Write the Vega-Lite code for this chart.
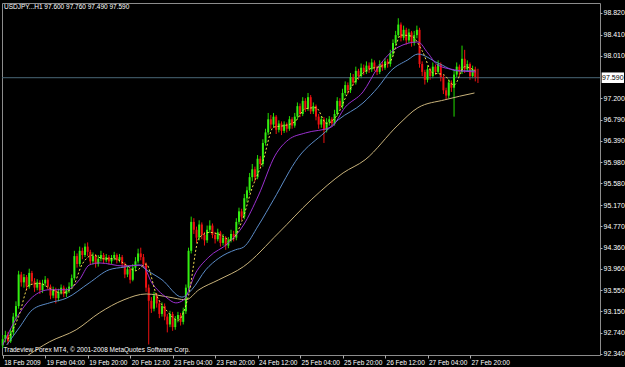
{
  "$schema": "https://vega.github.io/schema/vega-lite/v6.json",
  "autosize": {"type": "none"},
  "width": 598,
  "height": 352,
  "padding": {"left": 2, "top": 3, "right": 25, "bottom": 12},
  "background": "#000000",
  "config": {
    "view": {"stroke": "#8c8c8c", "strokeWidth": 1},
    "scale": {"continuousPadding": 0},
    "axis": {"grid": false, "domain": false, "title": null, "labelColor": "#ffffff", "labelFont": "Liberation Sans", "tickColor": "#b0b0b0", "labelOverlap": false, "labelFlush": false, "labelBound": false},
    "axisX": {"labelFontSize": 6.5, "tickSize": 3, "labelAlign": "left", "labelBaseline": "top", "labelOffset": 1, "labelPadding": 1},
    "axisY": {"labelFontSize": 7, "tickSize": 2, "labelPadding": 1, "labelBaseline": "middle", "labelAlign": "left"}
  },
  "datasets": {
    "one": [{"k": 1}],
    "candles": [
      {"i":0,"o":92.50,"h":92.70,"l":92.45,"c":92.62},
      {"i":1,"o":92.62,"h":92.78,"l":92.56,"c":92.70},
      {"i":2,"o":92.70,"h":92.76,"l":92.52,"c":92.58},
      {"i":3,"o":92.58,"h":92.82,"l":92.55,"c":92.75},
      {"i":4,"o":92.75,"h":93.12,"l":92.70,"c":93.05},
      {"i":5,"o":93.05,"h":93.34,"l":92.98,"c":93.25},
      {"i":6,"o":93.25,"h":93.92,"l":93.20,"c":93.85},
      {"i":7,"o":93.85,"h":93.90,"l":93.62,"c":93.70},
      {"i":8,"o":93.70,"h":93.86,"l":93.60,"c":93.80},
      {"i":9,"o":93.80,"h":93.84,"l":93.55,"c":93.62},
      {"i":10,"o":93.62,"h":93.96,"l":93.58,"c":93.88},
      {"i":11,"o":93.88,"h":93.92,"l":93.66,"c":93.72},
      {"i":12,"o":93.72,"h":93.78,"l":93.52,"c":93.60},
      {"i":13,"o":93.60,"h":93.76,"l":93.55,"c":93.70},
      {"i":14,"o":93.70,"h":93.74,"l":93.48,"c":93.55},
      {"i":15,"o":93.55,"h":93.75,"l":93.50,"c":93.68},
      {"i":16,"o":93.68,"h":93.82,"l":93.62,"c":93.75},
      {"i":17,"o":93.75,"h":93.78,"l":93.56,"c":93.62},
      {"i":18,"o":93.62,"h":93.66,"l":93.38,"c":93.45},
      {"i":19,"o":93.45,"h":93.62,"l":93.40,"c":93.55},
      {"i":20,"o":93.55,"h":93.60,"l":93.30,"c":93.40},
      {"i":21,"o":93.40,"h":93.58,"l":93.34,"c":93.52},
      {"i":22,"o":93.52,"h":93.66,"l":93.47,"c":93.60},
      {"i":23,"o":93.60,"h":93.64,"l":93.42,"c":93.48},
      {"i":24,"o":93.48,"h":93.60,"l":93.42,"c":93.55},
      {"i":25,"o":93.55,"h":93.70,"l":93.50,"c":93.62},
      {"i":26,"o":93.62,"h":93.85,"l":93.58,"c":93.78},
      {"i":27,"o":93.78,"h":94.30,"l":93.74,"c":94.20},
      {"i":28,"o":94.20,"h":94.25,"l":93.98,"c":94.05},
      {"i":29,"o":94.05,"h":94.38,"l":94.00,"c":94.30},
      {"i":30,"o":94.30,"h":94.36,"l":94.14,"c":94.22},
      {"i":31,"o":94.22,"h":94.44,"l":94.18,"c":94.38},
      {"i":32,"o":94.38,"h":94.46,"l":94.20,"c":94.28},
      {"i":33,"o":94.28,"h":94.32,"l":94.04,"c":94.10},
      {"i":34,"o":94.10,"h":94.27,"l":94.04,"c":94.20},
      {"i":35,"o":94.20,"h":94.24,"l":93.98,"c":94.05},
      {"i":36,"o":94.05,"h":94.22,"l":94.00,"c":94.15},
      {"i":37,"o":94.15,"h":94.30,"l":94.10,"c":94.22},
      {"i":38,"o":94.22,"h":94.26,"l":94.06,"c":94.12},
      {"i":39,"o":94.12,"h":94.24,"l":94.08,"c":94.18},
      {"i":40,"o":94.18,"h":94.22,"l":94.04,"c":94.10},
      {"i":41,"o":94.10,"h":94.22,"l":94.05,"c":94.16},
      {"i":42,"o":94.16,"h":94.28,"l":94.12,"c":94.22},
      {"i":43,"o":94.22,"h":94.25,"l":94.06,"c":94.12},
      {"i":44,"o":94.12,"h":94.24,"l":94.08,"c":94.18},
      {"i":45,"o":94.18,"h":94.22,"l":93.98,"c":94.05},
      {"i":46,"o":94.05,"h":94.08,"l":93.78,"c":93.85},
      {"i":47,"o":93.85,"h":94.02,"l":93.80,"c":93.95},
      {"i":48,"o":93.95,"h":93.98,"l":93.68,"c":93.75},
      {"i":49,"o":93.75,"h":94.05,"l":93.72,"c":93.98},
      {"i":50,"o":93.98,"h":94.18,"l":93.92,"c":94.10},
      {"i":51,"o":94.10,"h":94.34,"l":94.06,"c":94.25},
      {"i":52,"o":94.25,"h":94.36,"l":94.12,"c":94.18},
      {"i":53,"o":94.18,"h":94.24,"l":93.98,"c":94.05},
      {"i":54,"o":94.05,"h":94.08,"l":93.52,"c":93.60},
      {"i":55,"o":93.60,"h":93.66,"l":92.52,"c":93.35},
      {"i":56,"o":93.35,"h":93.42,"l":93.12,"c":93.20},
      {"i":57,"o":93.20,"h":93.52,"l":93.15,"c":93.45},
      {"i":58,"o":93.45,"h":93.50,"l":93.22,"c":93.30},
      {"i":59,"o":93.30,"h":93.35,"l":93.02,"c":93.10},
      {"i":60,"o":93.10,"h":93.32,"l":93.05,"c":93.25},
      {"i":61,"o":93.25,"h":93.30,"l":92.98,"c":93.05},
      {"i":62,"o":93.05,"h":93.10,"l":92.75,"c":92.90},
      {"i":63,"o":92.90,"h":93.16,"l":92.85,"c":93.10},
      {"i":64,"o":93.10,"h":93.14,"l":92.78,"c":92.85},
      {"i":65,"o":92.85,"h":93.06,"l":92.80,"c":93.00},
      {"i":66,"o":93.00,"h":93.14,"l":92.94,"c":93.08},
      {"i":67,"o":93.08,"h":93.12,"l":92.88,"c":92.95},
      {"i":68,"o":92.95,"h":93.22,"l":92.90,"c":93.15},
      {"i":69,"o":93.15,"h":93.66,"l":93.10,"c":93.60},
      {"i":70,"o":93.60,"h":94.36,"l":93.55,"c":94.30},
      {"i":71,"o":94.30,"h":94.95,"l":94.25,"c":94.85},
      {"i":72,"o":94.85,"h":94.92,"l":94.62,"c":94.70},
      {"i":73,"o":94.70,"h":94.76,"l":94.45,"c":94.55},
      {"i":74,"o":94.55,"h":94.88,"l":94.50,"c":94.80},
      {"i":75,"o":94.80,"h":94.84,"l":94.52,"c":94.60},
      {"i":76,"o":94.60,"h":94.66,"l":94.40,"c":94.50},
      {"i":77,"o":94.50,"h":94.78,"l":94.45,"c":94.70},
      {"i":78,"o":94.70,"h":94.88,"l":94.64,"c":94.78},
      {"i":79,"o":94.78,"h":94.82,"l":94.54,"c":94.60},
      {"i":80,"o":94.60,"h":94.66,"l":94.44,"c":94.52},
      {"i":81,"o":94.52,"h":94.72,"l":94.48,"c":94.65},
      {"i":82,"o":94.65,"h":94.68,"l":94.38,"c":94.45},
      {"i":83,"o":94.45,"h":94.62,"l":94.40,"c":94.55},
      {"i":84,"o":94.55,"h":94.58,"l":94.32,"c":94.40},
      {"i":85,"o":94.40,"h":94.56,"l":94.35,"c":94.50},
      {"i":86,"o":94.50,"h":94.70,"l":94.46,"c":94.62},
      {"i":87,"o":94.62,"h":94.68,"l":94.48,"c":94.55},
      {"i":88,"o":94.55,"h":94.92,"l":94.50,"c":94.85},
      {"i":89,"o":94.85,"h":95.12,"l":94.80,"c":95.05},
      {"i":90,"o":95.05,"h":95.10,"l":94.88,"c":94.95},
      {"i":91,"o":94.95,"h":95.38,"l":94.90,"c":95.30},
      {"i":92,"o":95.30,"h":95.52,"l":95.22,"c":95.45},
      {"i":93,"o":95.45,"h":95.78,"l":95.40,"c":95.70},
      {"i":94,"o":95.70,"h":95.95,"l":95.62,"c":95.85},
      {"i":95,"o":95.85,"h":95.90,"l":95.62,"c":95.70},
      {"i":96,"o":95.70,"h":96.12,"l":95.66,"c":96.05},
      {"i":97,"o":96.05,"h":96.10,"l":95.88,"c":95.95},
      {"i":98,"o":95.95,"h":96.42,"l":95.90,"c":96.35},
      {"i":99,"o":96.35,"h":96.62,"l":96.30,"c":96.55},
      {"i":100,"o":96.55,"h":96.92,"l":96.50,"c":96.80},
      {"i":101,"o":96.80,"h":96.88,"l":96.62,"c":96.70},
      {"i":102,"o":96.70,"h":96.92,"l":96.64,"c":96.85},
      {"i":103,"o":96.85,"h":96.88,"l":96.52,"c":96.60},
      {"i":104,"o":96.60,"h":96.78,"l":96.55,"c":96.72},
      {"i":105,"o":96.72,"h":96.76,"l":96.50,"c":96.58},
      {"i":106,"o":96.58,"h":96.76,"l":96.54,"c":96.70},
      {"i":107,"o":96.70,"h":96.74,"l":96.55,"c":96.62},
      {"i":108,"o":96.62,"h":96.86,"l":96.58,"c":96.80},
      {"i":109,"o":96.80,"h":96.84,"l":96.62,"c":96.68},
      {"i":110,"o":96.68,"h":96.92,"l":96.64,"c":96.85},
      {"i":111,"o":96.85,"h":97.12,"l":96.80,"c":97.05},
      {"i":112,"o":97.05,"h":97.10,"l":96.84,"c":96.90},
      {"i":113,"o":96.90,"h":97.22,"l":96.86,"c":97.15},
      {"i":114,"o":97.15,"h":97.20,"l":96.94,"c":97.00},
      {"i":115,"o":97.00,"h":97.30,"l":96.96,"c":97.22},
      {"i":116,"o":97.22,"h":97.26,"l":96.90,"c":96.95},
      {"i":117,"o":96.95,"h":97.12,"l":96.90,"c":97.05},
      {"i":118,"o":97.05,"h":97.08,"l":96.78,"c":96.85},
      {"i":119,"o":96.85,"h":96.90,"l":96.62,"c":96.70},
      {"i":120,"o":96.70,"h":96.86,"l":96.64,"c":96.80},
      {"i":121,"o":96.80,"h":96.84,"l":96.35,"c":96.60},
      {"i":122,"o":96.60,"h":96.82,"l":96.55,"c":96.75},
      {"i":123,"o":96.75,"h":96.86,"l":96.68,"c":96.80},
      {"i":124,"o":96.80,"h":96.84,"l":96.66,"c":96.72},
      {"i":125,"o":96.72,"h":96.98,"l":96.68,"c":96.90},
      {"i":126,"o":96.90,"h":97.22,"l":96.86,"c":97.15},
      {"i":127,"o":97.15,"h":97.20,"l":96.98,"c":97.05},
      {"i":128,"o":97.05,"h":97.38,"l":97.00,"c":97.30},
      {"i":129,"o":97.30,"h":97.52,"l":97.25,"c":97.45},
      {"i":130,"o":97.45,"h":97.50,"l":97.28,"c":97.35},
      {"i":131,"o":97.35,"h":97.68,"l":97.30,"c":97.60},
      {"i":132,"o":97.60,"h":97.66,"l":97.44,"c":97.50},
      {"i":133,"o":97.50,"h":97.80,"l":97.46,"c":97.72},
      {"i":134,"o":97.72,"h":97.76,"l":97.55,"c":97.62},
      {"i":135,"o":97.62,"h":97.86,"l":97.58,"c":97.78},
      {"i":136,"o":97.78,"h":97.84,"l":97.64,"c":97.70},
      {"i":137,"o":97.70,"h":97.90,"l":97.66,"c":97.82},
      {"i":138,"o":97.82,"h":97.88,"l":97.68,"c":97.75},
      {"i":139,"o":97.75,"h":97.95,"l":97.70,"c":97.88},
      {"i":140,"o":97.88,"h":97.92,"l":97.72,"c":97.78},
      {"i":141,"o":97.78,"h":97.82,"l":97.64,"c":97.70},
      {"i":142,"o":97.70,"h":97.92,"l":97.66,"c":97.85},
      {"i":143,"o":97.85,"h":97.90,"l":97.72,"c":97.78},
      {"i":144,"o":97.78,"h":97.96,"l":97.74,"c":97.90},
      {"i":145,"o":97.90,"h":97.95,"l":97.78,"c":97.85},
      {"i":146,"o":97.85,"h":98.12,"l":97.80,"c":98.05},
      {"i":147,"o":98.05,"h":98.32,"l":98.00,"c":98.25},
      {"i":148,"o":98.25,"h":98.48,"l":98.20,"c":98.40},
      {"i":149,"o":98.40,"h":98.72,"l":98.35,"c":98.60},
      {"i":150,"o":98.60,"h":98.64,"l":98.28,"c":98.35},
      {"i":151,"o":98.35,"h":98.58,"l":98.30,"c":98.50},
      {"i":152,"o":98.50,"h":98.54,"l":98.22,"c":98.30},
      {"i":153,"o":98.30,"h":98.52,"l":98.25,"c":98.45},
      {"i":154,"o":98.45,"h":98.48,"l":98.18,"c":98.25},
      {"i":155,"o":98.25,"h":98.48,"l":98.20,"c":98.40},
      {"i":156,"o":98.40,"h":98.58,"l":98.34,"c":98.50},
      {"i":157,"o":98.50,"h":98.54,"l":97.78,"c":97.85},
      {"i":158,"o":97.85,"h":97.90,"l":97.62,"c":97.70},
      {"i":159,"o":97.70,"h":97.74,"l":97.46,"c":97.55},
      {"i":160,"o":97.55,"h":97.82,"l":97.50,"c":97.75},
      {"i":161,"o":97.75,"h":97.78,"l":97.55,"c":97.62},
      {"i":162,"o":97.62,"h":97.88,"l":97.58,"c":97.80},
      {"i":163,"o":97.80,"h":97.84,"l":97.64,"c":97.70},
      {"i":164,"o":97.70,"h":97.92,"l":97.66,"c":97.85},
      {"i":165,"o":97.85,"h":97.88,"l":97.52,"c":97.60},
      {"i":166,"o":97.60,"h":97.64,"l":97.28,"c":97.35},
      {"i":167,"o":97.35,"h":97.40,"l":97.17,"c":97.25},
      {"i":168,"o":97.25,"h":97.56,"l":97.20,"c":97.50},
      {"i":169,"o":97.50,"h":97.54,"l":97.32,"c":97.40},
      {"i":170,"o":97.40,"h":97.72,"l":96.85,"c":97.65},
      {"i":171,"o":97.65,"h":97.88,"l":97.60,"c":97.80},
      {"i":172,"o":97.80,"h":97.84,"l":97.62,"c":97.70},
      {"i":173,"o":97.70,"h":98.20,"l":97.66,"c":97.95},
      {"i":174,"o":97.95,"h":98.12,"l":97.68,"c":97.75},
      {"i":175,"o":97.75,"h":97.92,"l":97.70,"c":97.85},
      {"i":176,"o":97.85,"h":97.88,"l":97.55,"c":97.62},
      {"i":177,"o":97.62,"h":97.82,"l":97.58,"c":97.75},
      {"i":178,"o":97.75,"h":97.80,"l":97.52,"c":97.60},
      {"i":179,"o":97.60,"h":97.76,"l":97.49,"c":97.59}
    ],
    "maFast": [
      {"i":2,"v":92.62},{"i":6,"v":93.05},{"i":10,"v":93.65},{"i":14,"v":93.68},{"i":18,"v":93.58},
      {"i":22,"v":93.50},{"i":26,"v":93.58},{"i":30,"v":94.05},{"i":34,"v":94.22},{"i":38,"v":94.15},
      {"i":42,"v":94.15},{"i":46,"v":94.05},{"i":50,"v":93.92},{"i":54,"v":94.05},{"i":58,"v":93.45},
      {"i":62,"v":93.15},{"i":66,"v":92.98},{"i":70,"v":93.45},{"i":74,"v":94.55},{"i":78,"v":94.65},
      {"i":82,"v":94.60},{"i":86,"v":94.50},{"i":90,"v":94.85},{"i":94,"v":95.50},{"i":98,"v":96.00},
      {"i":102,"v":96.65},{"i":106,"v":96.68},{"i":110,"v":96.75},{"i":114,"v":97.00},{"i":118,"v":97.02},
      {"i":122,"v":96.72},{"i":126,"v":96.88},{"i":130,"v":97.30},{"i":134,"v":97.60},{"i":138,"v":97.75},
      {"i":142,"v":97.80},{"i":146,"v":97.90},{"i":150,"v":98.40},{"i":154,"v":98.38},{"i":158,"v":98.10},
      {"i":162,"v":97.68},{"i":166,"v":97.65},{"i":170,"v":97.45},{"i":174,"v":97.80},{"i":178,"v":97.72}
    ],
    "maMid": [
      {"i":0,"v":92.51},{"i":6.4,"v":93.12},{"i":11.2,"v":93.42},{"i":17.6,"v":93.56},{"i":24,"v":93.56},
      {"i":28.9,"v":93.75},{"i":32.6,"v":94.03},{"i":36.4,"v":94.07},{"i":45.7,"v":94.01},{"i":52.5,"v":94.03},
      {"i":56.2,"v":93.69},{"i":61.5,"v":93.42},{"i":65.2,"v":93.31},{"i":68.2,"v":93.37},{"i":72.7,"v":93.88},
      {"i":77.6,"v":94.18},{"i":85,"v":94.45},{"i":90.7,"v":94.79},{"i":96.4,"v":95.36},{"i":102.7,"v":96.12},
      {"i":107.6,"v":96.41},{"i":114,"v":96.54},{"i":123.7,"v":96.65},{"i":129,"v":97.03},{"i":135.7,"v":97.32},
      {"i":141.4,"v":97.79},{"i":148.9,"v":98.17},{"i":156.4,"v":98.27},{"i":160.1,"v":98.06},{"i":163.9,"v":97.83},
      {"i":170.2,"v":97.74},{"i":178.1,"v":97.70}
    ],
    "maSlow": [
      {"i":1.5,"v":92.51},{"i":6.4,"v":92.85},{"i":11.2,"v":93.18},{"i":17.6,"v":93.31},{"i":24,"v":93.40},
      {"i":32.6,"v":93.69},{"i":40.1,"v":93.94},{"i":45.7,"v":93.99},{"i":51.4,"v":94.03},{"i":54,"v":93.94},
      {"i":60,"v":93.75},{"i":67.5,"v":93.42},{"i":71.2,"v":93.56},{"i":76.5,"v":93.94},{"i":81.4,"v":94.16},
      {"i":87.7,"v":94.32},{"i":90.7,"v":94.37},{"i":96.4,"v":94.79},{"i":102,"v":95.27},{"i":111.4,"v":96.08},
      {"i":121.5,"v":96.56},{"i":126.4,"v":96.79},{"i":135.7,"v":97.11},{"i":141.4,"v":97.41},{"i":146.2,"v":97.72},
      {"i":152.6,"v":97.93},{"i":156.4,"v":98.04},{"i":163.9,"v":97.87},{"i":171.4,"v":97.72},{"i":177.7,"v":97.72}
    ],
    "maLong": [
      {"i":8.5,"v":92.28},{"i":17.6,"v":92.57},{"i":27.7,"v":92.80},{"i":36.4,"v":93.12},{"i":45.7,"v":93.37},
      {"i":54,"v":93.48},{"i":62.6,"v":93.42},{"i":69,"v":93.37},{"i":73.9,"v":93.56},{"i":81.4,"v":93.75},
      {"i":90.7,"v":94.00},{"i":103.9,"v":94.64},{"i":116.2,"v":95.27},{"i":128.2,"v":95.78},{"i":136.5,"v":96.03},
      {"i":148.9,"v":96.69},{"i":156.4,"v":97.02},{"i":166.5,"v":97.17},{"i":177.7,"v":97.30}
    ]
  },
  "layer": [
    {
      "data": {"name": "candles"},
      "mark": {"type": "rule", "strokeWidth": 1},
      "encoding": {
        "x": {"field": "i", "type": "quantitative", "scale": {"domain": [-0.26, 224.97], "nice": false, "zero": false, "padding": 0},
              "axis": {"orient": "bottom", "tickCount": 30, "values": [0,16,32,48,64,80,96,112,128,144,160,176],
                       "labelExpr": "['18 Feb 2009','19 Feb 04:00','19 Feb 20:00','20 Feb 12:00','23 Feb 04:00','23 Feb 20:00','24 Feb 12:00','25 Feb 04:00','25 Feb 20:00','26 Feb 12:00','27 Feb 04:00','27 Feb 20:00'][round(datum.value/16)]"}},
        "y": {"field": "l", "type": "quantitative", "scale": {"domain": [92.32, 99.01], "nice": false, "zero": false, "padding": 0},
              "axis": {"orient": "right", "tickCount": 30, "labelOverlap": false, "values": [98.82,98.41,98.01,97.2,96.79,96.39,95.98,95.58,95.17,94.77,94.36,93.96,93.55,93.15,92.74,92.34], "format": ".3f"}},
        "y2": {"field": "h"},
        "color": {"condition": {"test": "datum.c >= datum.o", "value": "#22dd00"}, "value": "#ee1111"}
      }
    },
    {
      "data": {"name": "one"},
      "mark": {"type": "rule", "color": "#4a6878", "strokeWidth": 1},
      "encoding": {"y": {"datum": 97.59}}
    },
    {
      "data": {"name": "candles"},
      "mark": {"type": "bar", "width": 2},
      "encoding": {
        "x": {"field": "i", "type": "quantitative"},
        "y": {"field": "o", "type": "quantitative"},
        "y2": {"field": "c"},
        "color": {"condition": {"test": "datum.c >= datum.o", "value": "#33ee11"}, "value": "#ee1111"}
      }
    },
    {
      "data": {"name": "maLong"},
      "mark": {"type": "line", "color": "#c8b27a", "strokeWidth": 1, "clip": true, "interpolate": "monotone"},
      "encoding": {"x": {"field": "i", "type": "quantitative"}, "y": {"field": "v", "type": "quantitative"}}
    },
    {
      "data": {"name": "maSlow"},
      "mark": {"type": "line", "color": "#5b8cc8", "strokeWidth": 1, "clip": true, "interpolate": "monotone"},
      "encoding": {"x": {"field": "i", "type": "quantitative"}, "y": {"field": "v", "type": "quantitative"}}
    },
    {
      "data": {"name": "maMid"},
      "mark": {"type": "line", "color": "#9b30d0", "strokeWidth": 1, "clip": true, "interpolate": "monotone"},
      "encoding": {"x": {"field": "i", "type": "quantitative"}, "y": {"field": "v", "type": "quantitative"}}
    },
    {
      "data": {"name": "maFast"},
      "mark": {"type": "line", "color": "#f0dc50", "strokeWidth": 1, "strokeDash": [2, 2], "clip": true, "interpolate": "monotone"},
      "encoding": {"x": {"field": "i", "type": "quantitative"}, "y": {"field": "v", "type": "quantitative"}}
    },
    {
      "data": {"name": "one"},
      "mark": {"type": "rect", "fill": "#ffffff"},
      "encoding": {"x": {"datum": 225.6}, "x2": {"datum": 234.0}, "y": {"datum": 97.49}, "y2": {"datum": 97.69}}
    },
    {
      "data": {"name": "one"},
      "mark": {"type": "text", "text": "97.590", "color": "#000000", "font": "Liberation Sans", "fontSize": 7, "align": "center", "baseline": "middle"},
      "encoding": {"x": {"datum": 229.8}, "y": {"datum": 97.59}}
    },
    {
      "data": {"name": "one"},
      "mark": {"type": "text", "text": "USDJPY...H1  97.600 97.760 97.490 97.590", "color": "#ffffff", "font": "Liberation Sans", "fontSize": 6.5, "align": "left", "baseline": "middle"},
      "encoding": {"x": {"datum": 0.5}, "y": {"datum": 98.93}}
    },
    {
      "data": {"name": "one"},
      "mark": {"type": "text", "text": "Tradeview Forex MT4, © 2001-2008 MetaQuotes Software Corp.", "color": "#ffffff", "font": "Liberation Sans", "fontSize": 6.5, "align": "left", "baseline": "middle"},
      "encoding": {"x": {"datum": 0.3}, "y": {"datum": 92.41}}
    }
  ]
}
